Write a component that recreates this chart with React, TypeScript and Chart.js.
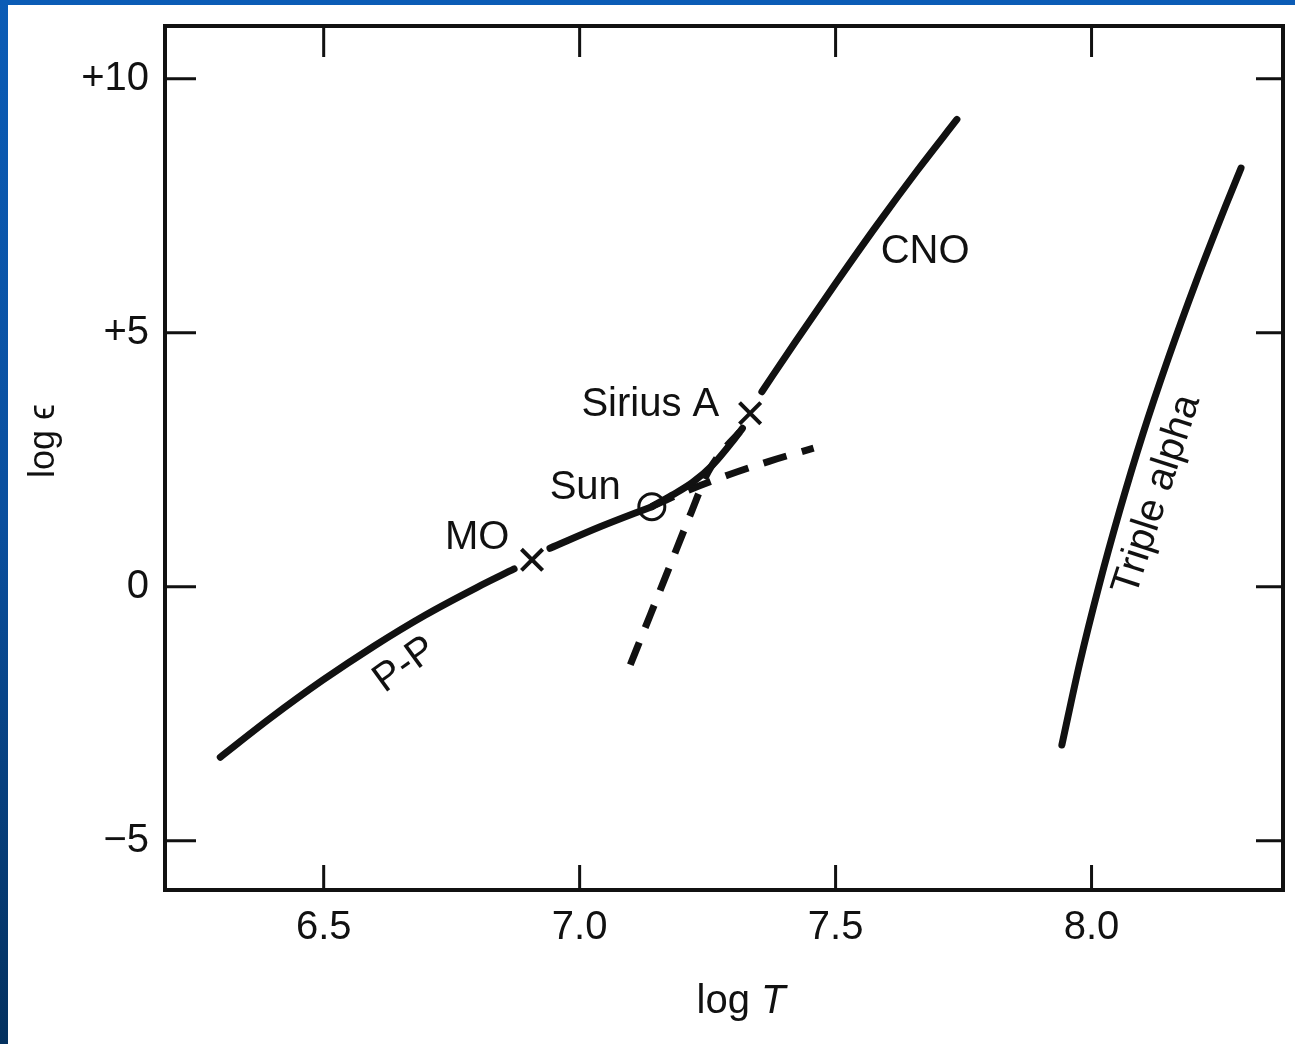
import React, { useEffect, useRef } from "react";
import { Chart, registerables } from "chart.js";

Chart.register(...registerables);

// ---- axis ticks ----
const xTickValues = [6.5, 7.0, 7.5, 8.0];
const yTickValues = [-5, 0, 5, 10];

// ---- P-P chain, solid part (start to MO) ----
const ppLowT = [6.298, 6.398, 6.498, 6.598, 6.698, 6.798, 6.872];
const ppLowE = [-3.355, -2.57, -1.84, -1.17, -0.56, -0.02, 0.35];

// ---- P-P chain, solid part (MO to Sun) ----
const ppMidT = [6.942, 7.04, 7.141];
const ppMidE = [0.758, 1.18, 1.577];

// ---- P-P chain, dashed continuation beyond Sun ----
const ppDashT = [7.141, 7.2, 7.29, 7.37, 7.457];
const ppDashE = [1.577, 1.85, 2.2, 2.47, 2.73];

// ---- total (solid) from Sun to Sirius A ----
const totalT = [7.141, 7.18, 7.22, 7.26, 7.3, 7.318];
const totalE = [1.577, 1.8, 2.05, 2.4, 2.88, 3.12];

// ---- CNO cycle, dashed lower part ----
const cnoDashT = [7.099, 7.138, 7.177, 7.216, 7.251, 7.284, 7.313];
const cnoDashE = [-1.536, -0.555, 0.429, 1.414, 2.26, 2.732, 3.047];

// ---- CNO cycle, solid upper part ----
const cnoT = [7.356, 7.42, 7.5, 7.58, 7.66, 7.737];
const cnoE = [3.84, 4.8, 5.97, 7.11, 8.2, 9.2];

// ---- triple alpha ----
const alphaT = [7.942, 7.977, 8.014, 8.055, 8.1, 8.15, 8.204, 8.262, 8.292];
const alphaE = [-3.115, -1.5, 0, 1.5, 3, 4.5, 6, 7.5, 8.243];

// ---- star markers ----
const crossT = [6.907, 7.333]; // MO, Sirius A
const crossE = [0.53, 3.415];
const sunT = [7.141];
const sunE = [1.577];

// ---- annotations ----
const labelTexts = ["MO", "Sun", "Sirius A", "CNO", "P-P", "Triple alpha"];
const labelT = [6.8, 7.011, 7.138, 7.675, 6.659, 8.128];
const labelE = [0.961, 1.945, 3.58, 6.59, -1.54, 1.807];
const labelAngle = [0, 0, 0, 0, -36, -72];

const FONT = "'Liberation Sans', Arial, Helvetica, sans-serif";
const INK = "#111111";

const pts = (t: number[], e: number[]) => t.map((v, i) => ({ x: v, y: e[i] }));

const lineDs = (t: number[], e: number[], dashed: boolean) => ({
  data: pts(t, e),
  showLine: true,
  borderColor: INK,
  borderWidth: 7,
  borderDash: dashed ? [24, 16] : [],
  borderCapStyle: dashed ? "butt" : "round",
  borderJoinStyle: "round",
  cubicInterpolationMode: "monotone",
  pointRadius: 0,
  fill: false,
  order: 2,
});

const framePlugin = {
  id: "frameTicks",
  afterDraw(chart: any) {
    const { ctx, chartArea: a, scales } = chart;
    const xs = scales.x;
    const ys = scales.y;
    ctx.save();
    ctx.strokeStyle = INK;
    // frame
    ctx.lineWidth = 4;
    ctx.strokeRect(a.left, a.top, a.right - a.left, a.bottom - a.top);
    // inward ticks
    ctx.lineWidth = 3;
    ctx.beginPath();
    xTickValues.forEach((v) => {
      const px = xs.getPixelForValue(v);
      ctx.moveTo(px, a.bottom);
      ctx.lineTo(px, a.bottom - 25);
      ctx.moveTo(px, a.top);
      ctx.lineTo(px, a.top + 31);
    });
    yTickValues.forEach((v) => {
      const py = ys.getPixelForValue(v);
      ctx.moveTo(a.left, py);
      ctx.lineTo(a.left + 31, py);
      ctx.moveTo(a.right, py);
      ctx.lineTo(a.right - 27, py);
    });
    ctx.stroke();

    // annotations
    ctx.fillStyle = INK;
    ctx.font = `40px ${FONT}`;
    ctx.textAlign = "center";
    ctx.textBaseline = "middle";
    labelTexts.forEach((txt, i) => {
      const px = xs.getPixelForValue(labelT[i]);
      const py = ys.getPixelForValue(labelE[i]);
      ctx.save();
      ctx.translate(px, py);
      ctx.rotate((labelAngle[i] * Math.PI) / 180);
      ctx.fillText(txt, 0, 0);
      ctx.restore();
    });

    // y axis title
    ctx.save();
    ctx.font = `36px ${FONT}`;
    ctx.translate(44, 441);
    ctx.rotate(-Math.PI / 2);
    ctx.fillText("log \u03f5", 0, 0);
    ctx.restore();

    // x axis title: "log " + italic T
    ctx.save();
    ctx.textAlign = "left";
    ctx.font = `40px ${FONT}`;
    const part1 = "log ";
    const w1 = ctx.measureText(part1).width;
    ctx.font = `italic 40px ${FONT}`;
    const w2 = ctx.measureText("T").width;
    const cx = 741;
    const startX = cx - (w1 + w2) / 2;
    ctx.font = `40px ${FONT}`;
    ctx.fillText(part1, startX, 1002);
    ctx.font = `italic 40px ${FONT}`;
    ctx.fillText("T", startX + w1, 1002);
    ctx.restore();

    ctx.restore();
  },
};

export default function App() {
  const ref = useRef<HTMLCanvasElement | null>(null);

  useEffect(() => {
    if (!ref.current) return;
    const chart = new Chart(ref.current, {
      type: "scatter",
      data: {
        datasets: [
          lineDs(ppLowT, ppLowE, false),
          lineDs(ppMidT, ppMidE, false),
          lineDs(totalT, totalE, false),
          lineDs(cnoT, cnoE, false),
          lineDs(ppDashT, ppDashE, true),
          lineDs(cnoDashT, cnoDashE, true),
          lineDs(alphaT, alphaE, false),
          {
            data: pts(crossT, crossE),
            showLine: false,
            pointStyle: "crossRot",
            pointRadius: 15,
            pointBorderWidth: 4,
            pointBorderColor: INK,
            borderColor: INK,
            order: 0,
          },
          {
            data: pts(sunT, sunE),
            showLine: false,
            pointStyle: "circle",
            pointRadius: 13,
            pointBorderWidth: 3,
            pointBorderColor: INK,
            pointBackgroundColor: "rgba(255,255,255,0)",
            borderColor: INK,
            order: 0,
          },
        ] as any,
      },
      options: {
        animation: false,
        responsive: false,
        maintainAspectRatio: false,
        layout: { autoPadding: false, padding: { left: 0, top: 26, right: 12, bottom: 0 } },
        plugins: {
          legend: { display: false },
          tooltip: { enabled: false },
          title: { display: false },
        },
        scales: {
          x: {
            type: "linear",
            min: 6.19,
            max: 8.374,
            afterBuildTicks: (s: any) => {
              s.ticks = xTickValues.map((v) => ({ value: v }));
            },
            afterFit: (s: any) => {
              s.height = 154;
              s.paddingLeft = 0;
              s.paddingRight = 0;
              s.paddingTop = 0;
              s.paddingBottom = 0;
            },
            grid: { display: false, drawTicks: false },
            border: { display: false },
            ticks: {
              padding: 14,
              color: INK,
              font: { family: FONT, size: 40 },
              maxRotation: 0,
              callback: (v: any) => Number(v).toFixed(1),
            },
          },
          y: {
            type: "linear",
            min: -5.97,
            max: 11.04,
            afterBuildTicks: (s: any) => {
              s.ticks = yTickValues.map((v) => ({ value: v }));
            },
            afterFit: (s: any) => {
              s.width = 165;
              s.paddingLeft = 0;
              s.paddingRight = 0;
              s.paddingTop = 0;
              s.paddingBottom = 0;
            },
            grid: { display: false, drawTicks: false },
            border: { display: false },
            ticks: {
              padding: 16,
              color: INK,
              font: { family: FONT, size: 40 },
              callback: (v: any) => {
                const n = Number(v);
                if (n > 0) return "+" + n;
                if (n < 0) return "\u2212" + Math.abs(n);
                return "0";
              },
            },
          },
        },
      },
      plugins: [framePlugin],
    } as any);
    return () => chart.destroy();
  }, []);

  return (
    <div
      style={{
        position: "fixed",
        left: 0,
        top: 0,
        width: 1295,
        height: 1044,
        background: "linear-gradient(180deg, #0b5cb6 0%, #0a4f9e 50%, #04315f 100%)",
        overflow: "hidden",
      }}
    >
      <div
        style={{
          position: "absolute",
          left: 8,
          top: 5,
          right: 0,
          bottom: 0,
          background: "#ffffff",
        }}
      />
      <canvas
        ref={ref}
        width={1295}
        height={1044}
        style={{ position: "absolute", left: 0, top: 0, width: 1295, height: 1044 }}
      />
    </div>
  );
}
